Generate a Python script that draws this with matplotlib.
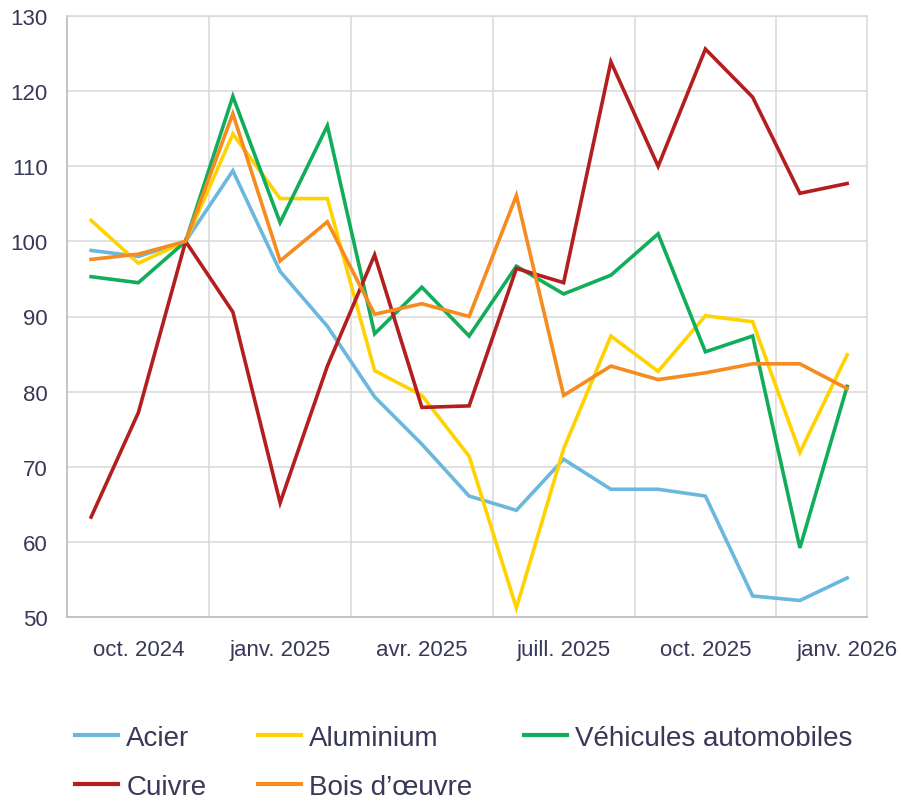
import matplotlib
matplotlib.use('Agg')
import matplotlib.pyplot as plt
import numpy as np

plt.rcParams['font.family'] = ['Liberation Sans', 'DejaVu Sans']

# mois de sept. 2024 à janv. 2026 (indice nov. 2024 = 100)
mois = ['sept. 2024', 'oct. 2024', 'nov. 2024', 'déc. 2024', 'janv. 2025', 'févr. 2025',
        'mars 2025', 'avr. 2025', 'mai 2025', 'juin 2025', 'juill. 2025', 'août 2025',
        'sept. 2025', 'oct. 2025', 'nov. 2025', 'déc. 2025', 'janv. 2026']

acier = [98.8, 98.0, 100.0, 109.4, 96.0, 88.7, 79.3, 73.0, 66.1, 64.2, 71.0, 67.0,
         67.0, 66.1, 52.8, 52.2, 55.2]
aluminium = [102.8, 97.1, 100.0, 114.3, 105.7, 105.7, 82.8, 79.5, 71.4, 51.2, 72.4, 87.4,
             82.7, 90.1, 89.3, 71.9, 84.9]
vehicules = [95.3, 94.5, 100.0, 119.3, 102.5, 115.4, 87.7, 93.9, 87.4, 96.7, 93.0, 95.5,
             101.0, 85.3, 87.4, 59.2, 80.7]
cuivre = [63.3, 77.2, 100.0, 90.6, 65.2, 83.4, 98.2, 77.9, 78.1, 96.4, 94.5, 123.9,
          110.0, 125.6, 119.2, 106.4, 107.7]
bois = [97.6, 98.3, 100.0, 117.0, 97.4, 102.6, 90.3, 91.7, 90.0, 106.1, 79.5, 83.4,
        81.6, 82.5, 83.7, 83.7, 80.4]

series = [
    ('Acier', acier, '#6BB7DE'),
    ('Aluminium', aluminium, '#FFD200'),
    ('Véhicules automobiles', vehicules, '#12AD5B'),
    ('Cuivre', cuivre, '#B31F1F'),
    ('Bois d\u2019œuvre', bois, '#F68B1F'),
]

texte = '#383858'
grille = '#D9D9D9'

fig = plt.figure(figsize=(9.01, 8.03), dpi=100)
ax = fig.add_axes([67 / 901, 1 - 618 / 803, 800 / 901, 601 / 803])

x = np.arange(len(mois))
lignes = {}
for nom, valeurs, couleur in series:
    ligne, = ax.plot(x, valeurs, color=couleur, linewidth=2.6, label=nom,
                     solid_joinstyle='miter', zorder=3)
    lignes[nom] = ligne

ax.set_xlim(-0.51, len(mois) - 0.58)
ax.set_ylim(50, 130)
ax.set_yticks(np.arange(50, 131, 10))

# étiquettes tous les 3 mois, séparateurs entre les trimestres
pos_etiq = x[1::3]
ax.set_xticks(pos_etiq)
ax.set_xticklabels([mois[i] for i in pos_etiq])
ax.set_xticks(np.arange(2.5, len(mois) - 1, 3), minor=True)

ax.grid(True, axis='y', color=grille, linewidth=1.1, zorder=0)
ax.grid(True, axis='x', which='minor', color=grille, linewidth=1.1, zorder=0)
ax.set_axisbelow(True)

ax.tick_params(axis='both', which='both', length=0, colors=texte, labelsize=16)
ax.tick_params(axis='x', pad=16)
ax.tick_params(axis='y', pad=14)

for cote in ['top', 'right']:
    ax.spines[cote].set_color(grille)
    ax.spines[cote].set_linewidth(1.1)
for cote in ['left', 'bottom']:
    ax.spines[cote].set_color('#BFBFBF')
    ax.spines[cote].set_linewidth(1.3)

# légende : ordre colonne par colonne pour obtenir les lignes voulues
ordre = ['Acier', 'Cuivre', 'Aluminium', 'Bois d\u2019œuvre', 'Véhicules automobiles']
leg = fig.legend([lignes[n] for n in ordre], ordre, ncol=3, frameon=False,
                 loc='upper left', bbox_to_anchor=(75 / 901, 1 - 726 / 803),
                 fontsize=20, handlelength=1.55, handletextpad=0.3,
                 columnspacing=1.85, labelspacing=0.82, borderpad=0, borderaxespad=0)
for t in leg.get_texts():
    t.set_color(texte)
for h in leg.get_lines():
    h.set_linewidth(3)

fig.savefig('out.png', dpi=100)
